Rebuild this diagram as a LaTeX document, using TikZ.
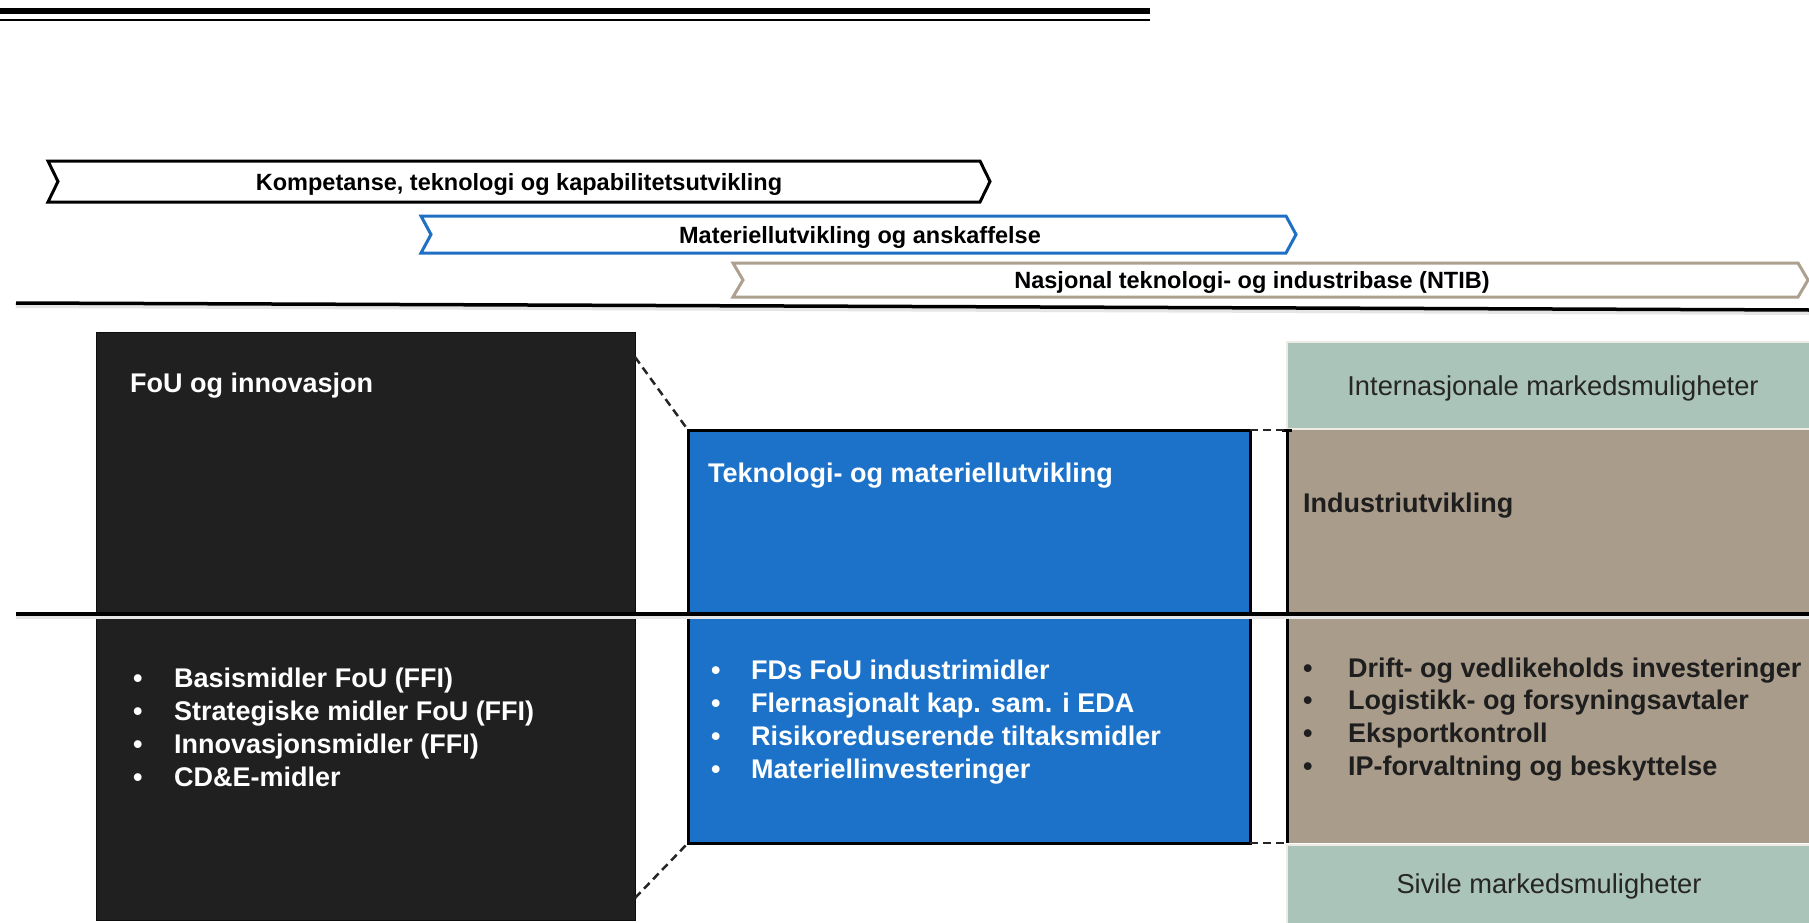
\documentclass[tikz,border=0pt]{standalone}
\usepackage{fontspec}
\setmainfont{Liberation Sans}
\usetikzlibrary{calc}

\definecolor{fouFill}{HTML}{202020}
\definecolor{tekFill}{HTML}{1B72C8}
\definecolor{tekEdge}{HTML}{1F6FC5}
\definecolor{indFill}{HTML}{AA9C8B}
\definecolor{indEdge}{HTML}{ADA08F}
\definecolor{mktFill}{HTML}{ABC4B9}
\definecolor{mktEdge}{HTML}{EEEAE6}
\definecolor{darkText}{HTML}{1E1E1E}
\definecolor{mktText}{HTML}{262626}

% bullet with a fixed indent before the item text
\newcommand\bul[1]{\makebox[#1pt][l]{\textbullet}}

\tikzset{
  chevline/.style={line width=3pt, fill=white, line join=miter},
  chevtext/.style={anchor=base, inner sep=0pt, font=\bfseries\fontsize{23.5}{28}\selectfont},
  areabox/.style={anchor=north west, inner sep=0pt, outer sep=0pt},
  boxtitle/.style={anchor=base west, inner sep=0pt, font=\bfseries\fontsize{27}{32}\selectfont},
  itemlist/.style={anchor=base west, inner sep=0pt, font=\bfseries\fontsize{27}{33}\selectfont},
  mkttext/.style={anchor=base, inner sep=0pt, text=mktText, font=\fontsize{27.3}{32}\selectfont},
  linkline/.style={dashed, dash pattern=on 8pt off 5pt, line width=2.5pt, draw=black!85},
  rule/.style={line width=4pt, black},
  ruleshade/.style={line width=4pt, black!10},
}

\begin{document}
\begin{tikzpicture}[x=1pt, y=-1pt]
\useasboundingbox (0,0) rectangle (1809,923);
\fill[white] (0,0) rectangle (1809,923);

% header rules
\draw[line width=6pt] (0,11) -- (1150,11);
\draw[line width=1.8pt] (0,20) -- (1150,20);

% phase chevrons
\draw[chevline, draw=black] (48,161) -- (980,161) -- (990,181.5) -- (980,202) -- (48,202) -- (58,181.5) -- cycle;
\node[chevtext] (kap) at (519,190) {Kompetanse, teknologi og kapabilitetsutvikling};

\draw[chevline, draw=tekEdge] (421,216) -- (1286,216) -- (1296,234.5) -- (1286,253) -- (421,253) -- (431,234.5) -- cycle;
\node[chevtext] (mat) at (860,243) {Materiellutvikling og anskaffelse};

\draw[chevline, draw=indEdge] (733,263) -- (1798,263) -- (1808,280) -- (1798,297) -- (733,297) -- (743,280) -- cycle;
\node[chevtext] (ntib) at (1252,288.5) {Nasjonal teknologi- og industribase (NTIB)};

% rule under the chevrons
\draw[ruleshade] (16,306) -- (1809,313);
\draw[line width=3.5pt] (16,303) -- (1809,310);

% main areas
\node[areabox, fill=fouFill, draw=black!95, line width=1pt,
      minimum width=539pt, minimum height=588pt] (fou) at (96,332) {};
\node[areabox, fill=tekFill, draw=black, line width=3pt,
      minimum width=562pt, minimum height=413pt] (tek) at (688,430) {};
\node[areabox, fill=mktFill, draw=mktEdge, line width=2.5pt,
      minimum width=530pt, minimum height=87pt] (intl) at (1287,342) {};
\node[areabox, fill=indFill,
      minimum width=530pt, minimum height=413pt] (ind) at (1287,430) {};
\node[areabox, fill=mktFill, draw=mktEdge, line width=2.5pt,
      minimum width=530pt, minimum height=85pt] (civ) at (1287,845) {};
\draw[line width=3pt] (ind.north west) -- (ind.south west);
\draw[line width=3pt] ([xshift=-5pt]ind.north west) -- ([xshift=5pt]ind.north west);

% dashed links between the areas
\draw[linkline] ([yshift=-25pt]fou.north east) -- (tek.north west);
\draw[linkline] ([yshift=22pt]fou.south east) -- (tek.south west);
\draw[linkline] (tek.north east) -- (ind.north west);
\draw[linkline] (tek.south east) -- (ind.south west);

% titles
\node[boxtitle, text=white] (fouT) at (130,392) {FoU og innovasjon};
\node[boxtitle, text=white] (tekT) at (708,482) {Teknologi- og materiellutvikling};
\node[boxtitle, text=darkText] (indT) at (1303,512) {Industriutvikling};
\node[mkttext] (intlT) at (1553,395) {Internasjonale markedsmuligheter};
\node[mkttext] (civT) at (1549,893) {Sivile markedsmuligheter};

% item lists
\node[itemlist, text=white] (fouL) at (133,687) {\begin{tabular}[t]{@{}l@{}}
\bul{41}Basismidler FoU (FFI)\\
\bul{41}Strategiske midler FoU (FFI)\\
\bul{41}Innovasjonsmidler (FFI)\\
\bul{41}CD\&E-midler
\end{tabular}};
\node[itemlist, text=white] (tekL) at (711,679) {\begin{tabular}[t]{@{}l@{}}
\bul{40}FDs FoU industrimidler\\
\bul{40}Flernasjonalt kap. sam. i EDA\\
\bul{40}Risikoreduserende tiltaksmidler\\
\bul{40}Materiellinvesteringer
\end{tabular}};
\node[itemlist, text=darkText, font=\bfseries\fontsize{27}{32.7}\selectfont] (indL) at (1303,677) {\begin{tabular}[t]{@{}l@{}}
\bul{45}Drift- og vedlikeholds investeringer\\
\bul{45}Logistikk- og forsyningsavtaler\\
\bul{45}Eksportkontroll\\
\bul{45}IP-forvaltning og beskyttelse
\end{tabular}};

% dividing rule across the areas
\draw[ruleshade] (16,617) -- (1809,617);
\draw[rule] (16,614) -- (1809,614);
\end{tikzpicture}
\end{document}
